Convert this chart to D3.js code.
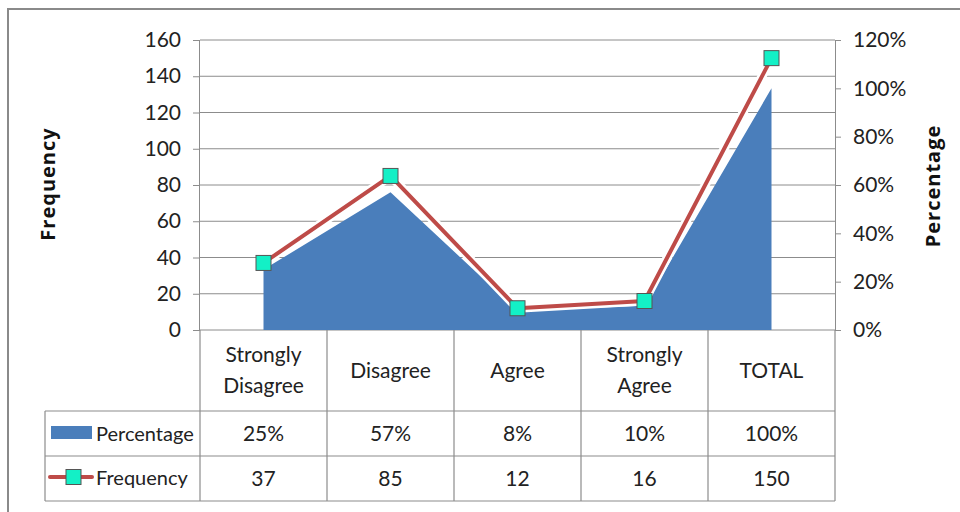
<!DOCTYPE html>
<html><head><meta charset="utf-8">
<script src="https://cdn.jsdelivr.net/npm/d3@7"></script>
<style>
html,body{margin:0;padding:0;background:#fff;}
svg{display:block;font-family:Lato,"Open Sans",sans-serif;}
</style></head>
<body><svg id="c" width="960" height="512"></svg>
<script>
const categories = [["Strongly","Disagree"],["Disagree"],["Agree"],["Strongly","Agree"],["TOTAL"]];
const percentage = [25, 57, 8, 10, 100];
const frequency = [37, 85, 12, 16, 150];
const percentLabels = ["25%","57%","8%","10%","100%"];
const freqTicks = [0,20,40,60,80,100,120,140,160];
const pctTicks = [0,20,40,60,80,100,120];

const svg = d3.select("#c");
const L = 200, R = 835, T = 40, B = 330;
const rowH = [411, 456, 501];
const tableLeft = 45;
const FS = 21;

// frame
svg.append("rect").attr("x",8).attr("y",9).attr("width",970).attr("height",520)
  .attr("fill","none").attr("stroke","#8a8a8a").attr("stroke-width",2);

const x = d3.scaleBand().domain(d3.range(categories.length)).range([L,R]);
const yL = d3.scaleLinear().domain([0,160]).range([B,T]);
const yR = d3.scaleLinear().domain([0,120]).range([B,T]);
const cx = i => x(i) + x.bandwidth()/2;

// gridlines
svg.append("g").selectAll("line").data(freqTicks).join("line")
  .attr("x1",L).attr("x2",R).attr("y1",d=>yL(d)).attr("y2",d=>yL(d))
  .attr("stroke","#8c8c8c").attr("stroke-width",1);

// area
const area = d3.area().x((d,i)=>cx(i)).y0(yR(0)).y1(d=>yR(d));
svg.append("path").datum(percentage).attr("d",area).attr("fill","#4a7ebb");

// left axis
const axL = svg.append("g").attr("transform",`translate(${L},0)`)
  .call(d3.axisLeft(yL).tickValues(freqTicks).tickSize(7).tickPadding(12));
axL.select(".domain").attr("stroke","#8c8c8c").attr("d",`M-0.5,${T}V${B}`);
axL.selectAll(".tick line").attr("stroke","#8c8c8c");
axL.selectAll(".tick text").attr("font-size",FS).attr("fill","#222").attr("font-family","Lato,sans-serif");

// right axis
const axR = svg.append("g").attr("transform",`translate(${R},0)`)
  .call(d3.axisRight(yR).tickValues(pctTicks).tickSize(6).tickPadding(12).tickFormat(d=>d+"%"));
axR.select(".domain").attr("stroke","#8c8c8c").attr("d",`M0.5,${T}V${B}`);
axR.selectAll(".tick line").attr("stroke","#8c8c8c");
axR.selectAll(".tick text").attr("font-size",FS).attr("fill","#222").attr("font-family","Lato,sans-serif");

// line with white outline
const line = d3.line().x((d,i)=>cx(i)).y(d=>yL(d));
svg.append("path").datum(frequency).attr("d",line).attr("fill","none")
  .attr("stroke","#fff").attr("stroke-width",9).attr("stroke-linejoin","round");
svg.append("path").datum(frequency).attr("d",line).attr("fill","none")
  .attr("stroke","#be4b48").attr("stroke-width",4).attr("stroke-linejoin","round");
svg.append("g").selectAll("rect").data(frequency).join("rect")
  .attr("x",(d,i)=>cx(i)-7.5).attr("y",d=>yL(d)-7.5).attr("width",15).attr("height",15)
  .attr("fill","#13f0c6").attr("stroke","#555").attr("stroke-width",1);

// axis titles
svg.append("text").attr("transform","translate(55,184) rotate(-90)")
  .attr("text-anchor","middle").attr("font-weight","bold").attr("font-size",20).attr("letter-spacing",1)
  .attr("font-family","'Open Sans',sans-serif").attr("fill","#111").text("Frequency");
svg.append("text").attr("transform","translate(940,186) rotate(-90)")
  .attr("text-anchor","middle").attr("font-weight","bold").attr("font-size",20).attr("letter-spacing",1)
  .attr("font-family","'Open Sans',sans-serif").attr("fill","#111").text("Percentage");

// table
const tg = svg.append("g").attr("stroke","#8c8c8c").attr("stroke-width",1.2);
const bounds = d3.range(categories.length+1).map(i => i<categories.length ? x(i) : R);
bounds.forEach(b => tg.append("line").attr("x1",b).attr("x2",b).attr("y1",B).attr("y2",rowH[2]));
tg.append("line").attr("x1",tableLeft).attr("x2",tableLeft).attr("y1",rowH[0]).attr("y2",rowH[2]);
rowH.forEach(h => tg.append("line").attr("x1",tableLeft).attr("x2",R).attr("y1",h).attr("y2",h));

// category labels
const cg = svg.append("g").attr("font-size",FS).attr("fill","#222").attr("text-anchor","middle");
categories.forEach((c,i) => {
  const t = cg.append("text").attr("x",cx(i)).attr("y", c.length===1 ? 378 : 362);
  c.forEach((s,j)=> t.append("tspan").attr("x",cx(i)).attr("dy", j===0?0:31).text(s));
});
// rows
const rg = svg.append("g").attr("font-size",FS).attr("fill","#222").attr("text-anchor","middle");
percentLabels.forEach((p,i)=> rg.append("text").attr("x",cx(i)).attr("y",441).text(p));
frequency.forEach((f,i)=> rg.append("text").attr("x",cx(i)).attr("y",486).text(f));

// legend
svg.append("rect").attr("x",51).attr("y",426).attr("width",41).attr("height",13).attr("fill","#4a7ebb");
svg.append("text").attr("x",96).attr("y",441).attr("font-size",20).attr("fill","#222").text("Percentage");
svg.append("line").attr("x1",50).attr("x2",92).attr("y1",477).attr("y2",477)
  .attr("stroke","#be4b48").attr("stroke-width",4).attr("stroke-linecap","round");
svg.append("rect").attr("x",66).attr("y",469.5).attr("width",15).attr("height",15)
  .attr("fill","#13f0c6").attr("stroke","#555").attr("stroke-width",1);
svg.append("text").attr("x",96).attr("y",485).attr("font-size",20).attr("fill","#222").text("Frequency");
</script></body></html>
